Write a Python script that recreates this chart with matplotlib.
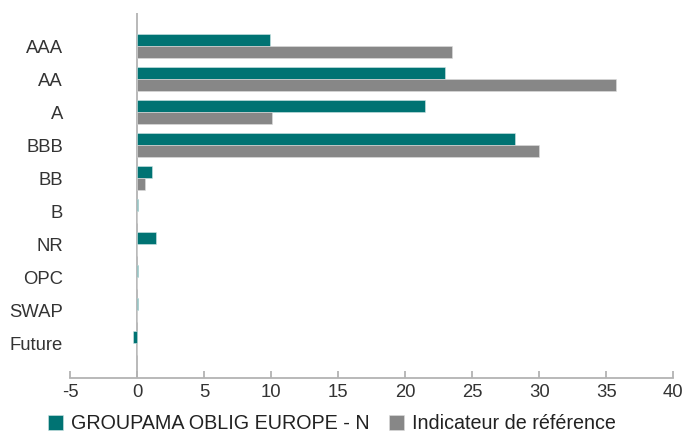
import numpy as np
import matplotlib
matplotlib.use("Agg")
import matplotlib.pyplot as plt

# Répartition par notation (%)
categories = ["AAA", "AA", "A", "BBB", "BB", "B", "NR", "OPC", "SWAP", "Future"]
fonds = [9.9, 23.0, 21.5, 28.2, 1.1, 0.05, 1.4, 0.1, 0.05, -0.3]
indice = [23.5, 35.7, 10.1, 30.0, 0.6, 0.0, 0.02, 0.0, 0.0, 0.0]
labels = ["GROUPAMA OBLIG EUROPE - N", "Indicateur de référence"]

plt.rcParams['font.family'] = ['Liberation Sans', 'DejaVu Sans']
plt.rcParams['axes.unicode_minus'] = False

fig = plt.figure(figsize=(6.84, 4.38), dpi=100)
ax = fig.add_axes([0.1023, 0.137, 0.882, 0.833])

y = np.arange(len(categories))
h = 0.36
ax.barh(y - h / 2, fonds, height=h, color='#007373', edgecolor='#d0e6e6', linewidth=0.4, label=labels[0])
ax.barh(y + h / 2, indice, height=h, color='#878787', edgecolor='#dddddd', linewidth=0.4, label=labels[1])

ax.set_xlim(-5, 40)
ax.set_ylim(10.05, -1.0)
ax.set_xticks(range(-5, 41, 5))
ax.set_yticks(y)
ax.set_yticklabels(categories)

ax.axvline(0, color='#b3b3b3', linewidth=1.3, zorder=0)
for s in ['top', 'right', 'left']:
    ax.spines[s].set_visible(False)
ax.spines['bottom'].set_color('#b3b3b3')
ax.spines['bottom'].set_linewidth(1.3)
ax.tick_params(axis='x', direction='in', length=5, width=1.3, color='#b3b3b3',
               labelsize=13.3, labelcolor='#333333', pad=4)
ax.tick_params(axis='y', length=0, labelsize=13.3, labelcolor='#333333', pad=5)

fig.legend(loc='lower center', bbox_to_anchor=(0.485, -0.03), ncol=2, frameon=False,
           fontsize=14.2, handlelength=0.75, handleheight=0.75, handletextpad=0.4,
           columnspacing=1.0, labelcolor='#222222')

fig.savefig("out.png", dpi=100)
